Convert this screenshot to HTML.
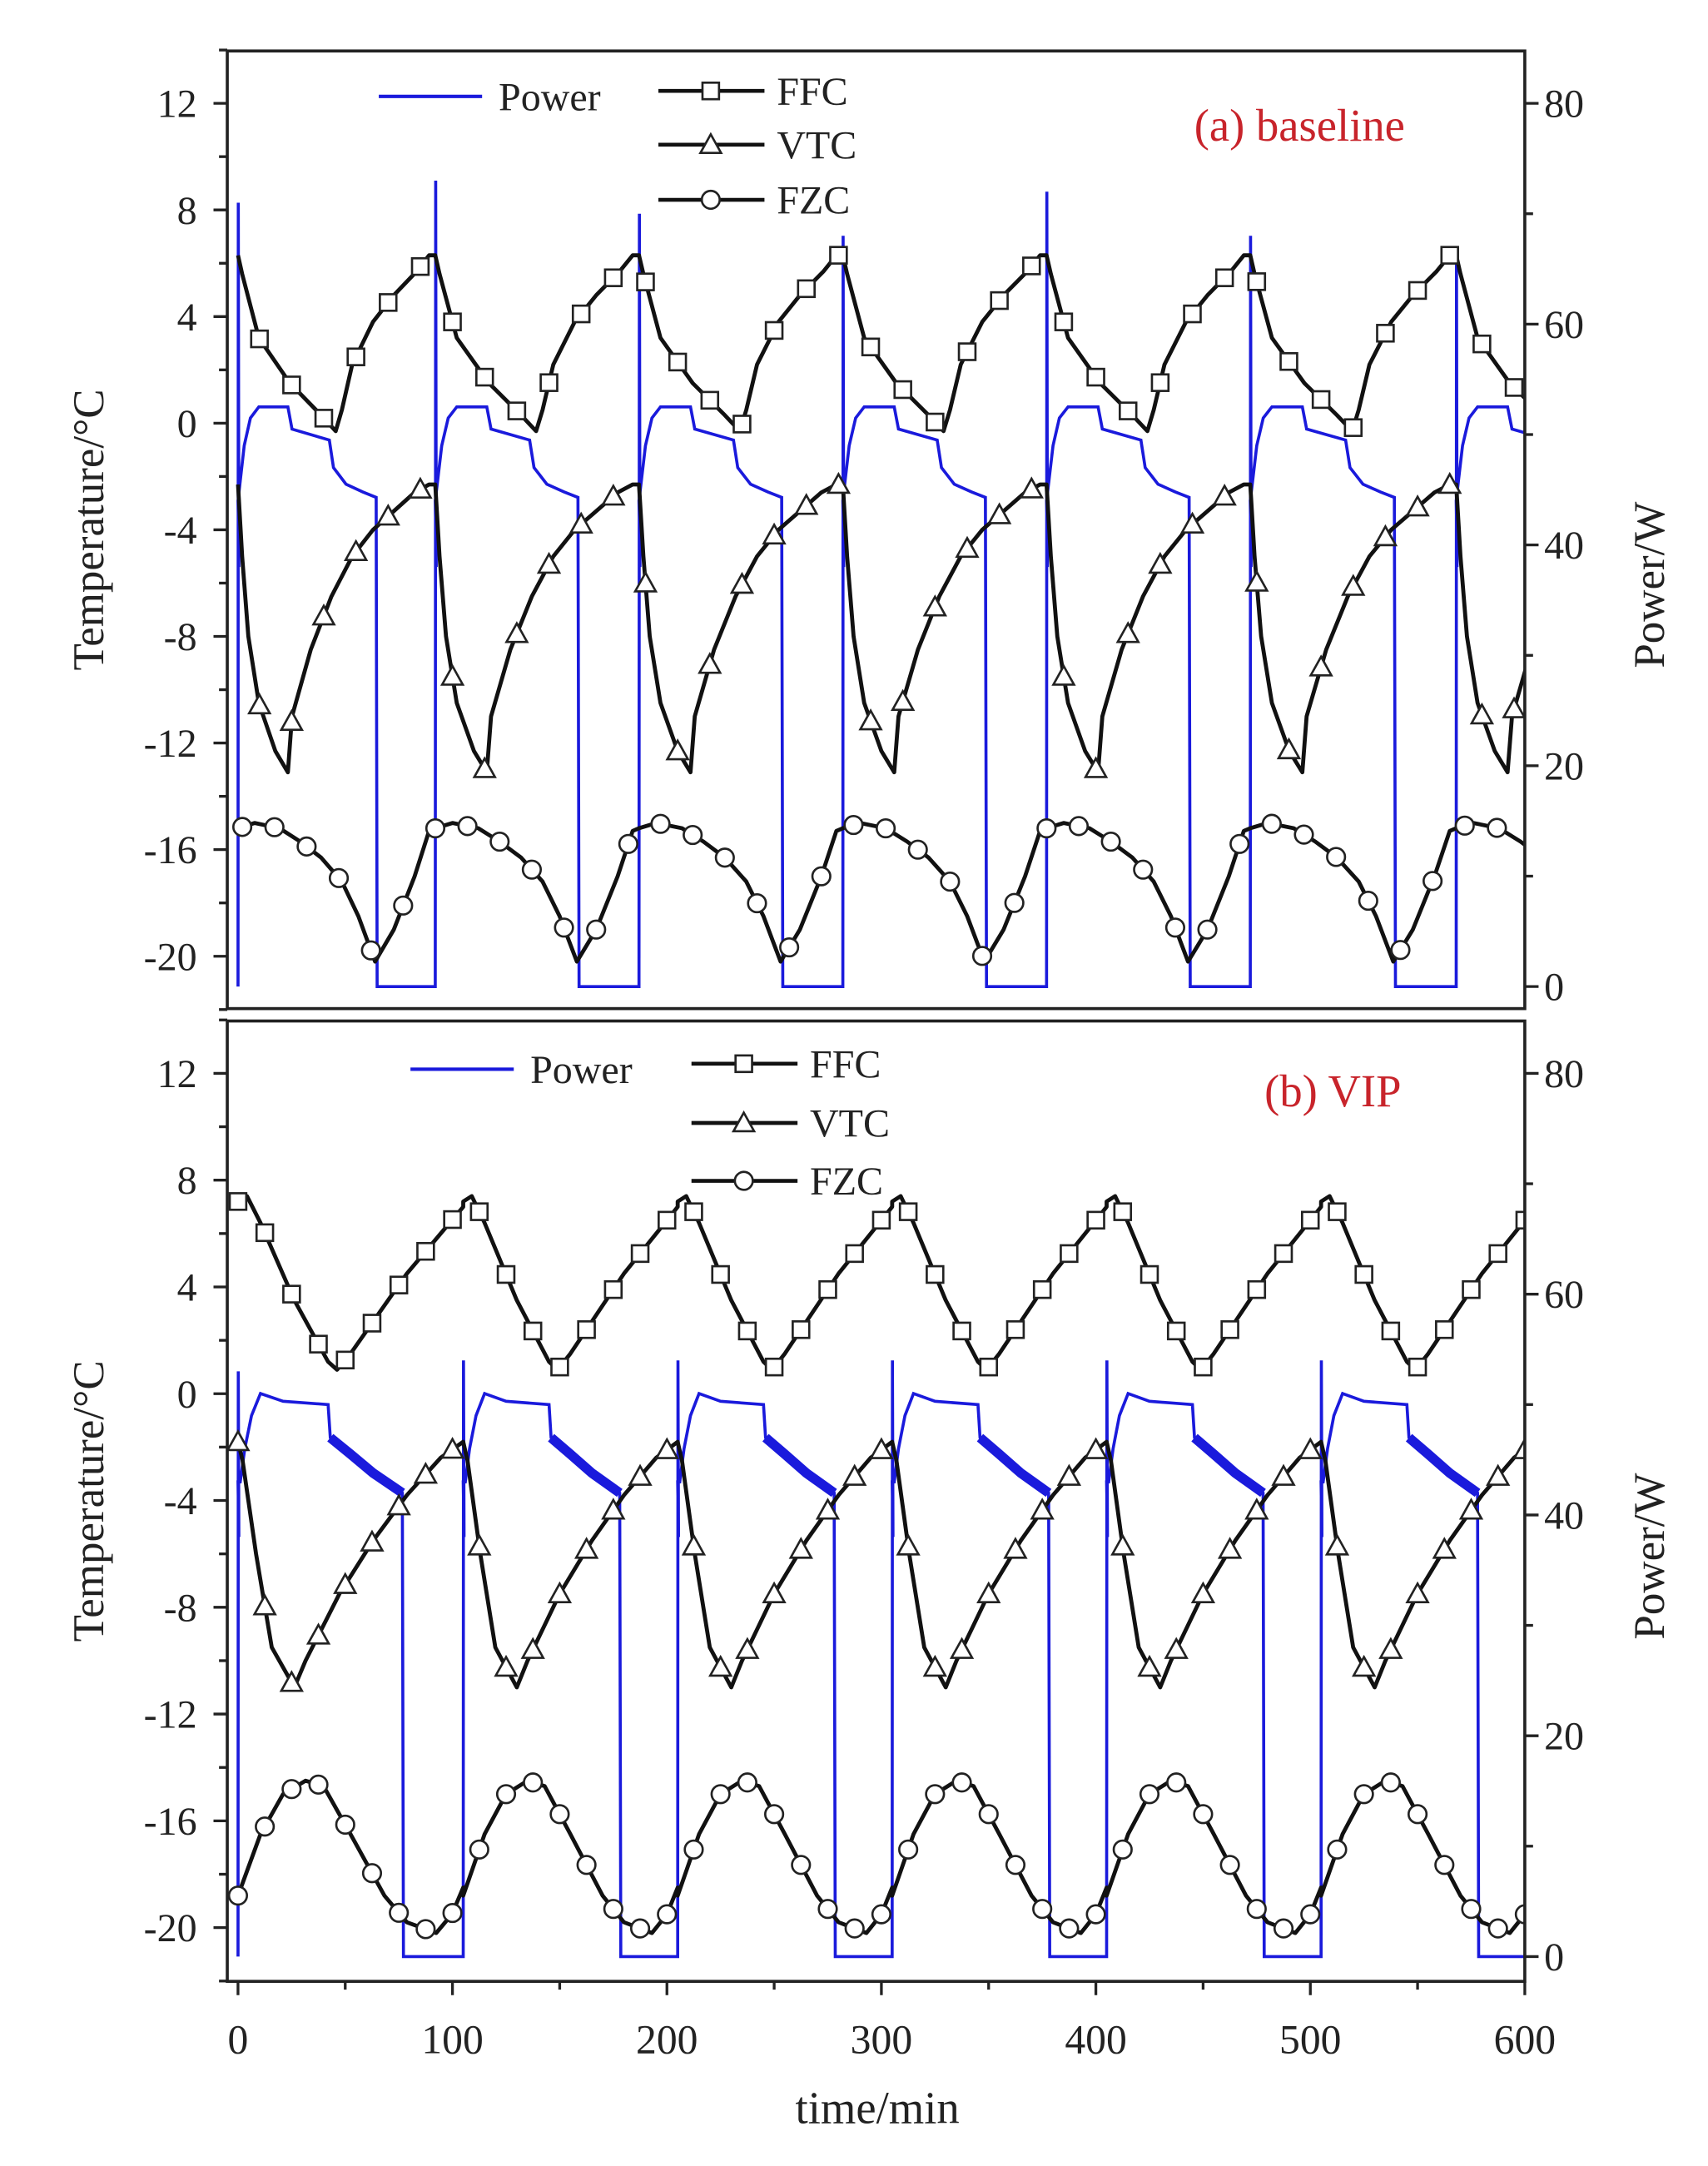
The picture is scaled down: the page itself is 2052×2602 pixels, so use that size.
<!DOCTYPE html>
<html><head><meta charset="utf-8">
<style>
html,body{margin:0;padding:0;background:#fff;}
svg{display:block;}
text{font-family:"Liberation Serif",serif;}
</style></head>
<body>
<svg id="fig" width="2052" height="2602" viewBox="0 0 1240 1572" preserveAspectRatio="none" xmlns="http://www.w3.org/2000/svg">
<rect width="1240" height="1572" fill="#fff"/>
</svg>
<script>
// ---------- data ----------
// panel (a) baseline
const cycleStartsA = [0, 92, 187, 282, 377, 472, 568];
const periodA = 95;
const spikeA = [71, 73, 70, 68, 72, 68, 67];
const ffcTimesA = [0, 2, 10, 25, 40, 47, 50, 55, 65, 75, 86, 92];
const ffcValsA  = [6.3, 5.6, 3.2, 1.5, 0.3, -0.3, 0.5, 2.2, 3.8, 4.8, 5.7, 6.3];
const vtcTimesA = [0, 2, 5, 10, 18, 24, 26, 35, 45, 55, 65, 75, 85, 92];
const vtcValsA  = [-2.3, -5, -8, -10.5, -12.3, -13.1, -11, -8.5, -6.5, -5, -4, -3.3, -2.6, -2.3];
const fzcTimesA = [0, 8, 20, 30, 40, 50, 58, 66, 75, 85, 92];
const fzcValsA  = [-15.2, -15, -15.2, -15.7, -16.3, -17.2, -18.5, -20.2, -19, -17, -15.3];
const powTimesA = [0, 1.2, 3, 6, 10, 24, 26, 44, 46, 52, 60, 66.5, 67, 92];
const powValsA  = [44, 46, 49, 51.5, 52.5, 52.5, 50.5, 49.5, 47, 45.5, 44.8, 44.3, 0, 0];
// panel (b) VIP
const cycleStartsB = [0, 105, 205, 305, 405, 505];
const periodB = 100;
const spikeB = [53, 54, 54, 54, 54, 54];
const ffcTimesB = [0, 4, 10, 25, 40, 44, 50, 75, 95, 100];
const ffcValsB  = [7.2, 7.4, 6.4, 3.5, 1.2, 0.9, 1.5, 4.5, 6.5, 7.0];
const vtcTimesB = [0, 2, 8, 15, 25, 30, 45, 60, 75, 90, 100];
const vtcValsB  = [-1.8, -2.5, -6, -9.5, -11, -10, -7.5, -5.5, -3.8, -2.4, -1.8];
const fzcTimesB = [0, 10, 20, 30, 38, 50, 65, 75, 88, 95, 100];
const fzcValsB  = [-18.8, -16.5, -15, -14.5, -14.7, -16.5, -18.8, -19.8, -20.2, -19.5, -18.5];
const powTimesB = [0, 1, 3, 6, 10, 20, 40, 41, 50, 60, 73, 73.5, 100];
const powValsB  = [43, 43, 46, 49, 51, 50.3, 50, 47, 45.5, 43.8, 42, 0, 0];
const tempTicks = [-20, -16, -12, -8, -4, 0, 4, 8, 12];
const powerTicks = [0, 20, 40, 60, 80];
const timeTicks = [0, 100, 200, 300, 400, 500, 600];

// ---------- helpers ----------
const NS = "http://www.w3.org/2000/svg";
const svg = document.getElementById('fig');
function mk(tag, attrs, parent) {
  const e = document.createElementNS(NS, tag);
  for (const k in attrs) e.setAttribute(k, attrs[k]);
  (parent || svg).appendChild(e);
  return e;
}
const xL = 165, xR = 1107;
const tMin = -5, tMax = 600;
function xs(t) { return xL + (t - tMin) / (tMax - tMin) * (xR - xL); }

function buildSeries(starts, period, times, vals, spikes, isPower) {
  const pts = [];
  for (let c = 0; c < starts.length; c++) {
    const s = starts[c];
    const next = c + 1 < starts.length ? starts[c + 1] : s + period;
    const sc = (next - s) / period;
    for (let i = 0; i < times.length; i++) {
      if (isPower && i === 0) {
        pts.push([s, 0]);
        pts.push([s + 0.15, spikes[c]]);
        pts.push([s + 0.4, 38]);
      }
      pts.push([s + times[i] * sc, vals[i]]);
    }
  }
  return pts;
}
function interp(pts, t) {
  for (let i = 1; i < pts.length; i++) {
    if (pts[i][0] >= t) {
      const a = pts[i - 1], b = pts[i];
      const f = b[0] === a[0] ? 0 : (t - a[0]) / (b[0] - a[0]);
      return a[1] + f * (b[1] - a[1]);
    }
  }
  return pts[pts.length - 1][1];
}

function panel(cfg) {
  const { top, bottom, y12, y20m, p0, p80, starts, period, series, spikes, label, legendY, legendX, powerLegX, labelX, name } = cfg;
  const g = mk('g', {});
  
  
  const yT = v => y20m + (v + 20) / 32 * (y12 - y20m);
  const yP = v => p0 + v / 80 * (p80 - p0);
  const cid = name + '-clip';
  const cp = mk('clipPath', { id: cid }, g);
  mk('rect', { x: xL, y: top, width: xR - xL, height: bottom - top }, cp);
  const plot = mk('g', { 'clip-path': 'url(#' + cid + ')' }, g);

  // power
  const pw = buildSeries(starts, period, series.power[0], series.power[1], spikes, true);
  const pl = mk('polyline', { points: pw.map(p => xs(p[0]).toFixed(1) + ',' + yP(p[1]).toFixed(1)).join(' '), fill: 'none', stroke: '#1a1adc', 'stroke-width': 2.2 }, plot);
  
  
  if (cfg.noisy) {
    for (let c = 0; c < starts.length; c++) {
      const next = c + 1 < starts.length ? starts[c + 1] : starts[c] + period;
      const sc = (next - starts[c]) / period;
      const segPts = pw.filter(p => p[0] >= starts[c] + 40.5 * sc && p[0] <= starts[c] + 73 * sc);
      const nb = mk('polyline', { points: segPts.map(p => xs(p[0]).toFixed(1) + ',' + yP(p[1]).toFixed(1)).join(' '), fill: 'none', stroke: '#1a1adc', 'stroke-width': 7 }, plot);
      
      
    }
  }

  const defs = [['ffc', 'square'], ['vtc', 'triangle'], ['fzc', 'circle']];
  defs.forEach(([key, shape], si) => {
    const pts = buildSeries(starts, period, series[key][0], series[key][1], spikes, false);
    const ln = mk('polyline', { points: pts.map(p => xs(p[0]).toFixed(1) + ',' + yT(p[1]).toFixed(1)).join(' '), fill: 'none', stroke: '#111', 'stroke-width': 2.9, 'stroke-linejoin': 'round' }, plot);
    
    
    const step = cfg.markStep;
    for (let t = cfg.markOff[si]; t <= 600; t += step) {
      const v = interp(pts, t);
      const m = marker(shape, xs(t), yT(v), plot);
      
      
    }
  });

  // frame
  const fr = mk('rect', { x: xL, y: top, width: xR - xL, height: bottom - top, fill: 'none', stroke: '#222', 'stroke-width': 2.2 }, g);
  
  
  for (let v = -22; v <= 14; v += 2) {
    const y = yT(v);
    const major = v % 4 === 0;
    mk('line', { x1: xL, x2: xL - (major ? 10 : 6), y1: y, y2: y, stroke: '#222', 'stroke-width': 2 }, g);
  }
  tempTicks.forEach(v => {
    const t = mk('text', { x: xL - 22, y: yT(v) + 10, 'text-anchor': 'end', 'font-size': 29, fill: '#222' }, g);
    t.textContent = v;
    
    
  });
  for (let v = 0; v <= 80; v += 10) {
    const y = yP(v);
    const major = v % 20 === 0;
    mk('line', { x1: xR, x2: xR + (major ? 10 : 6), y1: y, y2: y, stroke: '#222', 'stroke-width': 2 }, g);
  }
  powerTicks.forEach(v => {
    const t = mk('text', { x: xR + 14, y: yP(v) + 10, 'font-size': 29, fill: '#222' }, g);
    t.textContent = v;
    
    
  });
  const yc = (top + bottom) / 2;
  const lt = mk('text', { x: 0, y: 0, transform: `translate(75,${yc}) rotate(-90)`, 'text-anchor': 'middle', 'font-size': 32, fill: '#222' }, g);
  lt.textContent = 'Temperature/°C';
  
  
  const rt = mk('text', { x: 0, y: 0, transform: `translate(1208,${yc + 40}) rotate(-90)`, 'text-anchor': 'middle', 'font-size': 32, fill: '#222' }, g);
  rt.textContent = 'Power/W';
  
  
  const pl2 = mk('text', { x: labelX, y: cfg.labelY, 'font-size': 33, fill: '#c8242b' }, g);
  pl2.textContent = label;
  
  
  const lg = mk('g', {}, g);
  
  
  mk('line', { x1: powerLegX, x2: powerLegX + 75, y1: legendY[0] + 4, y2: legendY[0] + 4, stroke: '#1a1adc', 'stroke-width': 2.5 }, lg);
  const tp = mk('text', { x: powerLegX + 87, y: legendY[0] + 14, 'font-size': 29, fill: '#222' }, lg);
  tp.textContent = 'Power';
  
  
  [['FFC', 'square'], ['VTC', 'triangle'], ['FZC', 'circle']].forEach(([nm, sh], i) => {
    const y = legendY[i];
    mk('line', { x1: legendX, x2: legendX + 77, y1: y, y2: y, stroke: '#111', 'stroke-width': 2.8 }, lg);
    marker(sh, legendX + 38, y, lg);
    const tx = mk('text', { x: legendX + 86, y: y + 10, 'font-size': 29, fill: '#222' }, lg);
    tx.textContent = nm;
    
    
  });
  return { top, bottom };
}
function marker(shape, x, y, parent) {
  const st = { fill: '#fff', stroke: '#222', 'stroke-width': 1.6 };
  if (shape === 'square') return mk('rect', Object.assign({ x: x - 6, y: y - 6, width: 12, height: 12 }, st), parent);
  if (shape === 'circle') return mk('circle', Object.assign({ cx: x, cy: y, r: 6.5 }, st), parent);
  return mk('polygon', Object.assign({ points: `${x},${y - 7.5} ${x + 7.5},${y + 6} ${x - 7.5},${y + 6}` }, st), parent);
}

panel({
  name: 'panel-a-baseline', top: 37, bottom: 732, y12: 75, y20m: 694, p0: 716, p80: 75,
  starts: cycleStartsA, period: periodA, spikes: spikeA,
  series: { power: [powTimesA, powValsA], ffc: [ffcTimesA, ffcValsA], vtc: [vtcTimesA, vtcValsA], fzc: [fzcTimesA, fzcValsA] },
  markStep: 15, markOff: [10, 10, 2], label: '(a) baseline', labelX: 867, labelY: 102,
  legendY: [66, 105, 145], legendX: 478, powerLegX: 275, noisy: false
});
panel({
  name: 'panel-b-vip', top: 741, bottom: 1438, y12: 779, y20m: 1399, p0: 1420, p80: 779,
  starts: cycleStartsB, period: periodB, spikes: spikeB,
  series: { power: [powTimesB, powValsB], ffc: [ffcTimesB, ffcValsB], vtc: [vtcTimesB, vtcValsB], fzc: [fzcTimesB, fzcValsB] },
  markStep: 12.5, markOff: [0, 0, 0], label: '(b) VIP', labelX: 918, labelY: 803,
  legendY: [772, 815, 857], legendX: 502, powerLegX: 298, noisy: true
});

const xa = mk('g', {});


for (let t = 0; t <= 600; t += 50) {
  mk('line', { x1: xs(t), x2: xs(t), y1: 1438, y2: 1438 + (t % 100 === 0 ? 10 : 6), stroke: '#222', 'stroke-width': 2 }, xa);
}
timeTicks.forEach(t => {
  const tx = mk('text', { x: xs(t), y: 1490, 'text-anchor': 'middle', 'font-size': 30, fill: '#222' }, xa);
  tx.textContent = t;
  
  
});
const xt = mk('text', { x: 637, y: 1541, 'text-anchor': 'middle', 'font-size': 33, fill: '#222' }, xa);
xt.textContent = 'time/min';


</script>
</body></html>
